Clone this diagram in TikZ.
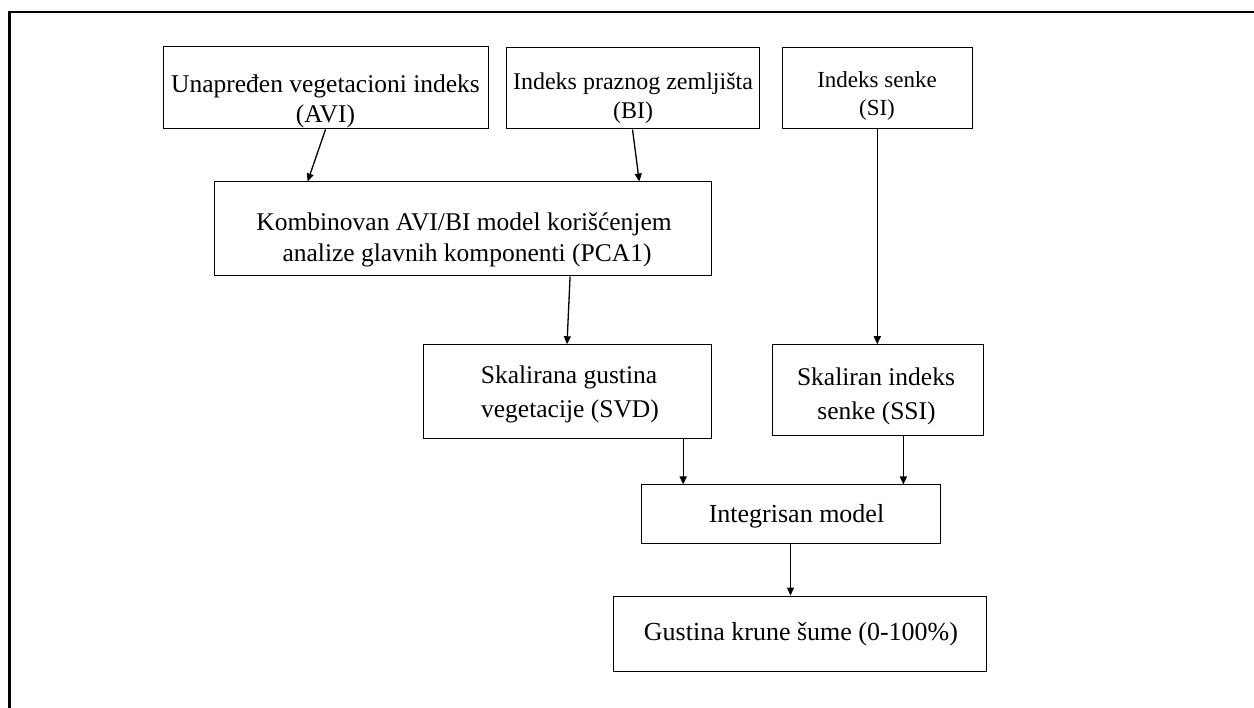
\documentclass[tikz,border=0pt]{standalone}
\usepackage{fontspec}
\setmainfont{Liberation Serif}
\usetikzlibrary{arrows.meta,calc}
\begin{document}
\begin{tikzpicture}[x=1pt,y=-1pt,
  box/.style={draw=black, line width=1pt, inner sep=0pt, fill=none},
  txt/.style={anchor=base, inner sep=0pt, font=\fontsize{25.5}{30}\selectfont},
  txtb/.style={txt, font=\fontsize{24}{29}\selectfont},
  txtc/.style={txt, font=\fontsize{23}{28}\selectfont},
  txtd/.style={txt, font=\fontsize{26}{31}\selectfont},
  arr/.style={-{Triangle[length=8pt,width=7pt]}, line width=1.3pt}]
\useasboundingbox (0,0) rectangle (1254,708);
% outer frame (partly cropped)
\draw[line width=2.2pt, line join=miter] (9.5,708) -- (9.5,12) -- (1254,12);
% boxes
\node[box, minimum width=325pt, minimum height=82pt] (avi) at (325.5,88) {};
\node[box, minimum width=253pt, minimum height=81pt] (bi) at (632.5,88.5) {};
\node[box, minimum width=190pt, minimum height=81pt] (si) at (877.3,88.5) {};
\node[box, minimum width=497pt, minimum height=94pt] (pca) at (462.5,229) {};
\node[box, minimum width=288pt, minimum height=93.5pt] (svd) at (567,391.5) {};
\node[box, minimum width=211pt, minimum height=90.5pt] (ssi) at (877.5,390) {};
\node[box, minimum width=299pt, minimum height=59pt] (integ) at (790.5,514.5) {};
\node[box, minimum width=373pt, minimum height=75pt] (gust) at (799.5,633.5) {};
% texts
\node[txt] (aviA) at (325.5,93) {Unapređen vegetacioni indeks};
\node[txt] (aviB) at (325.5,123) {(AVI)};
\node[txtb] (biA) at (633,90) {Indeks praznog zemljišta};
\node[txtb] (biB) at (633,119) {(BI)};
\node[txtc] (siA) at (877,88) {Indeks senke};
\node[txtc] (siB) at (877,115.5) {(SI)};
\node[txt] (pcaA) at (464,231) {Kombinovan AVI/BI model korišćenjem};
\node[txt] (pcaB) at (467,262) {analize glavnih komponenti (PCA1)};
\node[txt] (svdA) at (569,384) {Skalirana gustina};
\node[txt] (svdB) at (570,418) {vegetacije (SVD)};
\node[txt] (ssiA) at (876,386) {Skaliran indeks};
\node[txt] (ssiB) at (876.5,420) {senke (SSI)};
\node[txtd] (integA) at (796.5,523) {Integrisan model};
\node[txtd] (gustA) at (801,640) {Gustina krune šume (0-100\%)};
% connectors
\coordinate (p1) at ($(pca.north west)!0.189!(pca.north east)$);
\coordinate (p2) at ($(pca.north west)!0.855!(pca.north east)$);
\coordinate (p3) at ($(pca.south west)!0.716!(pca.south east)$);
\coordinate (s1) at ($(svd.south west)!0.902!(svd.south east)$);
\coordinate (s2) at ($(ssi.south west)!0.622!(ssi.south east)$);
\draw[arr] (avi.south) -- (p1);
\draw[arr] (bi.south) -- (p2);
\draw[arr] (p3) -- (svd.north);
\draw[arr] (si.south) -- (si.south |- ssi.north);
\draw[arr] (s1) -- (s1 |- integ.north);
\draw[arr] (s2) -- (s2 |- integ.north);
\draw[arr] (integ.south) -- (integ.south |- gust.north);
\end{tikzpicture}
\end{document}
